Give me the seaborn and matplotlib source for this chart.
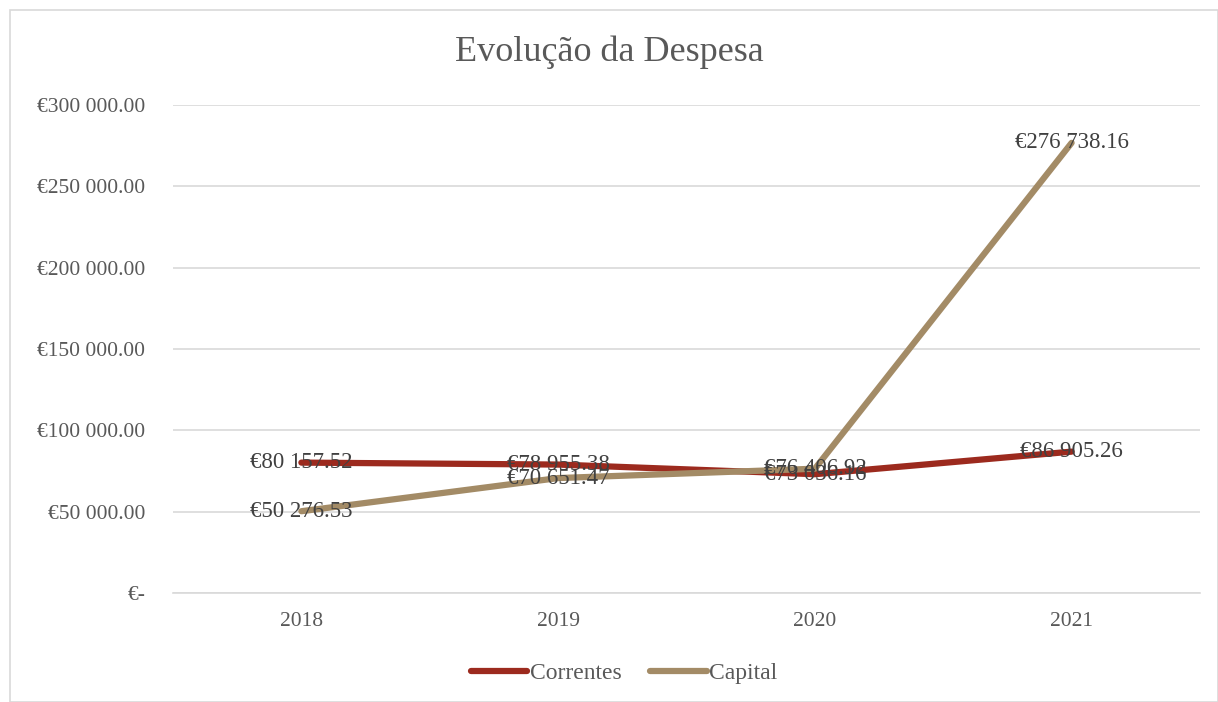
import numpy as np
import pandas as pd
import seaborn as sns
import matplotlib.pyplot as plt
from matplotlib.patches import Rectangle
from matplotlib.ticker import FuncFormatter

anos = ["2018", "2019", "2020", "2021"]
correntes = [80157.52, 78955.38, 73036.16, 86905.26]
capital = [50276.53, 70651.47, 76406.92, 276738.16]
series = ["Correntes", "Capital"]
cores = ["#9C2A1E", "#A38B66"]


def euro(v, pos=None):
    if v == 0:
        return "€-"
    s = f"{v:,.2f}".replace(",", " ")
    return "€" + s


df = pd.DataFrame({
    "ano": anos * 2,
    "valor": correntes + capital,
    "serie": [series[0]] * 4 + [series[1]] * 4,
})

sns.set_style("white")
plt.rcParams["font.family"] = ["Liberation Serif", "DejaVu Serif"]
txt = "#595959"

fig = plt.figure(figsize=(12.18, 7.02), dpi=100)
fig.patches.append(Rectangle((10 / 1218, 0), 1 - 10 / 1218, 1 - 10 / 702,
                             transform=fig.transFigure, fill=False,
                             edgecolor="#D9D9D9", linewidth=1.2))
ax = fig.add_axes([173 / 1218, 109 / 702, 1027 / 1218, 488 / 702])

sns.lineplot(data=df, x="ano", y="valor", hue="serie", palette=cores,
             linewidth=4.5, sort=False, ax=ax, legend=True)

ax.set_xlim(-0.5, 3.5)
ax.set_ylim(0, 300000)
ax.set_yticks(np.arange(0, 300001, 50000))
ax.yaxis.set_major_formatter(FuncFormatter(euro))
ax.grid(axis="y", color="#D9D9D9", linewidth=1.2)
ax.set_axisbelow(True)
for s in ["top", "right", "left"]:
    ax.spines[s].set_visible(False)
ax.spines["bottom"].set_color("#D9D9D9")
ax.spines["bottom"].set_linewidth(1.2)
ax.tick_params(axis="both", length=0, labelsize=15.5, colors=txt, pad=14)
ax.tick_params(axis="y", pad=20)
ax.set_xlabel("")
ax.set_ylabel("")

for vals in [correntes, capital]:
    for i, v in enumerate(vals):
        ax.text(i, v, euro(v), ha="center", va="center", fontsize=16.5, color="#404040")

fig.text(0.5, 1 - 52 / 702, "Evolução da Despesa", ha="center", va="center",
         fontsize=26, color=txt)

handles, labels = ax.get_legend_handles_labels()
ax.get_legend().remove()
fig.legend(handles, labels, loc="center", bbox_to_anchor=(624 / 1218, 1 - 673 / 702),
           ncol=2, frameon=False, fontsize=17, labelcolor=txt,
           handlelength=2.4, handletextpad=0.1, columnspacing=1.2)

fig.savefig("out.png", dpi=100)
